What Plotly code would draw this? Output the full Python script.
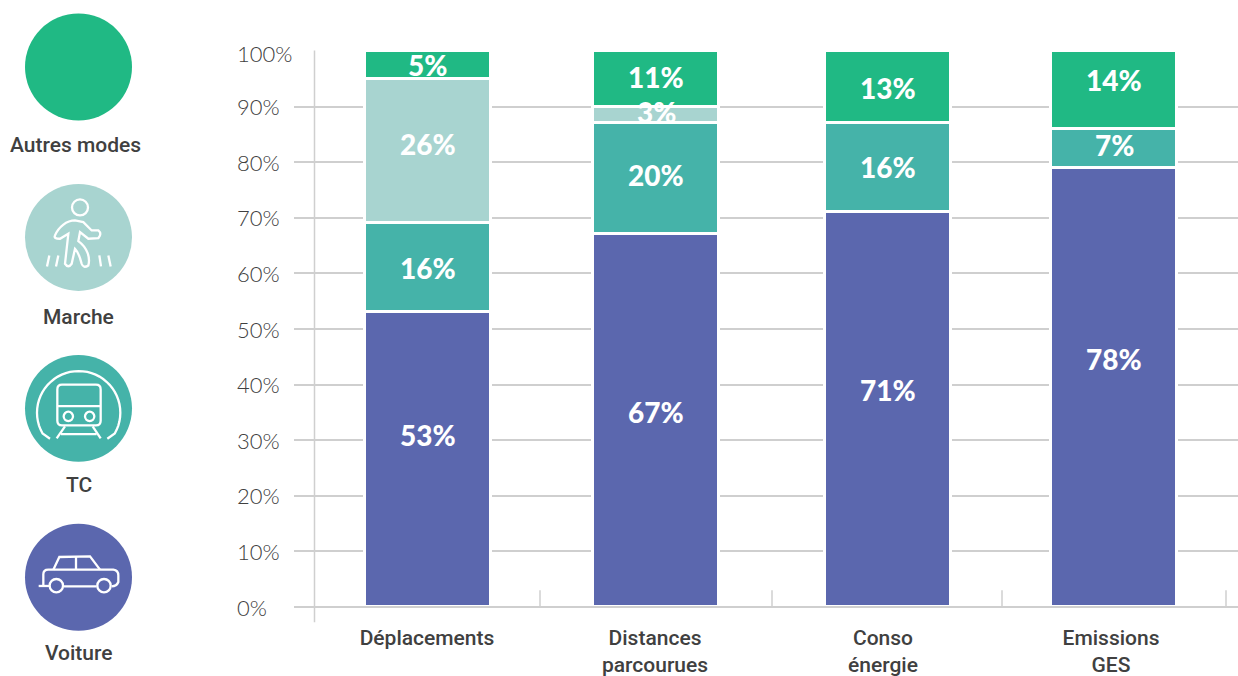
import re
import math
import plotly.graph_objects as go

W, H = 1238, 676
L, R, T, B = 294, 0, 50.5, 69.3

categories = ["Déplacements", "Distances<br>parcourues", "Conso<br>énergie", "Emissions<br>GES"]
voiture = [53, 67, 71, 79]
tc = [16, 20, 16, 7]
marche = [26, 3, 0, 0]
autres = [5, 10, 13, 14]

voiture_txt = ["53%", "67%", "71%", "78%"]
tc_txt = ["16%", "20%", "16%", "7%"]
marche_txt = ["26%", "3%", "", ""]
autres_txt = ["5%", "11%", "13%", "14%"]

label_shift_voiture = [25, 9, 20, 28]
label_shift_tc = [0, 4, 1, 3]
label_shift_marche = [7, 3, 0, 0]
label_shift_autres = [0, 2, -1, 10]

tick_vals = [0, 10, 20, 30, 40, 50, 60, 70, 80, 90, 100]
tick_labels = ["0%", "10%", "20%", "30%", "40%", "50%", "60%", "70%", "80%", "90%", "100%"]
tick_label_shift = [0, 0, 0, 0, 0, 0, 0, 0, 0, 0, -2]

legend_names = ["Autres modes", "Marche", "TC", "Voiture"]
legend_x = [75, 78.5, 78.5, 78.5]
legend_y = [145, 317, 485, 653]
category_tick_px = [540, 772, 1002, 1226]

C_VOIT, C_TC, C_MAR, C_AUT = "#5B67AE", "#45B3A9", "#A8D4D0", "#20B984"
GRID = "#CFCFCF"
DARK = "#404040"

PW = W - L - R
PH = H - T - B
CAT_PX = 228.0
X0_PX = 427.0
BAR_W = 126 / CAT_PX
bar_nudge_px = [0.5, 1, 5, 3]
bar_offset = [-BAR_W / 2 + n / CAT_PX for n in bar_nudge_px]


def px(x):
    return (x - L) / PW


def py(y):
    return 1 - (y - T) / PH


def path(d, dx=0.0, dy=0.0, s=1 / 3):
    """Map an icon outline drawn in pixels onto paper coordinates."""
    toks = re.findall(r"[A-Za-z]|-?\d+\.?\d*", d)
    out, is_x = [], True
    for t in toks:
        if t.isalpha():
            out.append(t)
            is_x = True
        else:
            v = float(t) * s
            out.append(f"{px(v + dx):.5f}" if is_x else f"{py(v + dy):.5f}")
            is_x = not is_x
    return " ".join(out)


def icon_line(d, dx=0.0, dy=0.0, width=2.3):
    return dict(type="path", xref="paper", yref="paper", path=path(d, dx, dy),
                line=dict(color="white", width=width), layer="above")


def circle(cx, cy, r, fill=None, width=2.3):
    return dict(type="circle", xref="paper", yref="paper", x0=px(cx - r), x1=px(cx + r),
                y0=py(cy + r), y1=py(cy - r), layer="above",
                fillcolor=fill if fill else "rgba(0,0,0,0)",
                line=dict(color="white", width=0 if fill else width))


fig = go.Figure()
for name, vals, color in [("Voiture", voiture, C_VOIT), ("TC", tc, C_TC),
                          ("Marche", marche, C_MAR), ("Autres modes", autres, C_AUT)]:
    fig.add_bar(x=categories, y=vals, name=name, width=BAR_W, offset=bar_offset,
                marker=dict(color=color, line=dict(color="white", width=3)), showlegend=False)

annotations = []
base = [0, 0, 0, 0]
for vals, txts, shifts in [(voiture, voiture_txt, label_shift_voiture), (tc, tc_txt, label_shift_tc),
                           (marche, marche_txt, label_shift_marche), (autres, autres_txt, label_shift_autres)]:
    for i, (v, t, s) in enumerate(zip(vals, txts, shifts)):
        if t:
            annotations.append(dict(x=categories[i], y=base[i] + v / 2, xref="x", yref="y", text=t,
                                    showarrow=False, yshift=s, xshift=bar_nudge_px[i],
                                    font=dict(family="Lato", size=28, color="white", weight=900)))
        base[i] += v

for v, t, s in zip(tick_vals, tick_labels, tick_label_shift):
    annotations.append(dict(x=px(235), y=v, xref="paper", yref="y", text=t, showarrow=False,
                            xanchor="left", yanchor="middle", yshift=s,
                            font=dict(family="Lato", size=22, color=DARK, weight=300)))

for name, x, y in zip(legend_names, legend_x, legend_y):
    annotations.append(dict(x=px(x), y=py(y), xref="paper", yref="paper", text=name,
                            xanchor="center", yanchor="middle", showarrow=False,
                            font=dict(family="Roboto", size=21, color=DARK, weight=500)))

shapes = [
    dict(type="line", xref="paper", yref="paper", x0=px(314.5), x1=px(314.5), y0=py(50), y1=py(622),
         line=dict(color=GRID, width=1.5), layer="below"),
    dict(type="line", xref="paper", yref="paper", x0=px(294), x1=px(1238), y0=py(606.7), y1=py(606.7),
         line=dict(color=GRID, width=2), layer="above"),
    circle(78.5, 66.5, 53.5, C_AUT),
    circle(78.5, 237, 53.5, C_MAR),
    circle(78.5, 408, 53.5, C_TC),
    circle(78.5, 577, 53.5, C_VOIT),
    # walker
    circle(80, 207, 8),
    icon_line("M 165 705 C 175 680 200 660 225 660 L 250 665 L 275 690 L 295 690 Q 307 700 295 713 "
              "L 265 715 L 240 695 L 235 722 C 260 740 272 770 265 795 Q 250 805 245 790 "
              "C 240 770 235 755 225 745 L 215 790 Q 205 805 195 790 L 205 700 L 180 715 Q 160 715 165 705 Z"),
    icon_line("M 148 765 L 141 798"), icon_line("M 175 765 L 168 798"),
    icon_line("M 298 765 L 303 798"), icon_line("M 325 765 L 332 798"),
    # train
    icon_line("M 186 133 L 288 133 Q 302 133 302 147 L 302 241 Q 302 255 288 255 L 186 255 "
              "Q 172 255 172 241 L 172 147 Q 172 133 186 133 Z", dy=340),
    icon_line("M 172 197 L 302 197", dy=340),
    circle(205 / 3, 340 + 228 / 3, 14 / 3), circle(269 / 3, 340 + 228 / 3, 14 / 3),
    icon_line("M 170 294 L 195 258", dy=340), icon_line("M 302 294 L 278 258", dy=340),
    icon_line("M 183 281 L 290 281", dy=340),
    # car
    icon_line("M 130 736 L 130 702 Q 130 688 145 688 L 340 688 Q 355 690 355 705 L 355 725 "
              "Q 350 738 335 738", dy=340),
    icon_line("M 116 737 L 148 737", dy=340), icon_line("M 190 738 L 290 738", dy=340),
    icon_line("M 160 688 L 178 650 L 270 648 L 300 688", dy=340),
    icon_line("M 228 650 L 228 688", dy=340),
    circle(169 / 3, 340 + 736 / 3, 20 / 3), circle(312 / 3, 340 + 736 / 3, 20 / 3),
]
for tx in category_tick_px:
    shapes.append(dict(type="line", xref="paper", yref="paper", x0=px(tx), x1=px(tx), y0=py(590), y1=py(606.7),
                       line=dict(color=GRID, width=1.5), layer="below"))
# tunnel arc around the train
arc_pts = [(150, 295)] + [(236 + 125 * math.cos(math.radians(a)), 217 + 125 * math.sin(math.radians(a)))
                          for a in range(150, 391, 6)] + [(322, 295)]
shapes.append(icon_line("M " + " L ".join(f"{x:.1f} {y:.1f}" for x, y in arc_pts), dy=340))

fig.update_layout(
    width=W, height=H, autosize=False, barmode="stack", bargap=0,
    margin=dict(l=L, r=R, t=T, b=B, pad=0, autoexpand=False),
    paper_bgcolor="white", plot_bgcolor="white",
    annotations=annotations, shapes=shapes,
    xaxis=dict(type="category", categoryorder="array", categoryarray=categories, automargin=False,
               range=[(L - X0_PX) / CAT_PX, (W - X0_PX) / CAT_PX],
               ticks="", showgrid=False, zeroline=False, showline=False, ticklabelstandoff=16,
               tickfont=dict(family="Roboto", size=21, color=DARK, weight=500)),
    yaxis=dict(range=[0, 100], tickvals=tick_vals, showticklabels=False, ticks="", automargin=False,
               showgrid=True, gridcolor=GRID, gridwidth=1.5, zeroline=False, showline=False),
)

fig.write_html("out.html", config=dict(displayModeBar=False),
               post_script="document.body.style.margin='0';document.body.style.overflow='hidden';")
